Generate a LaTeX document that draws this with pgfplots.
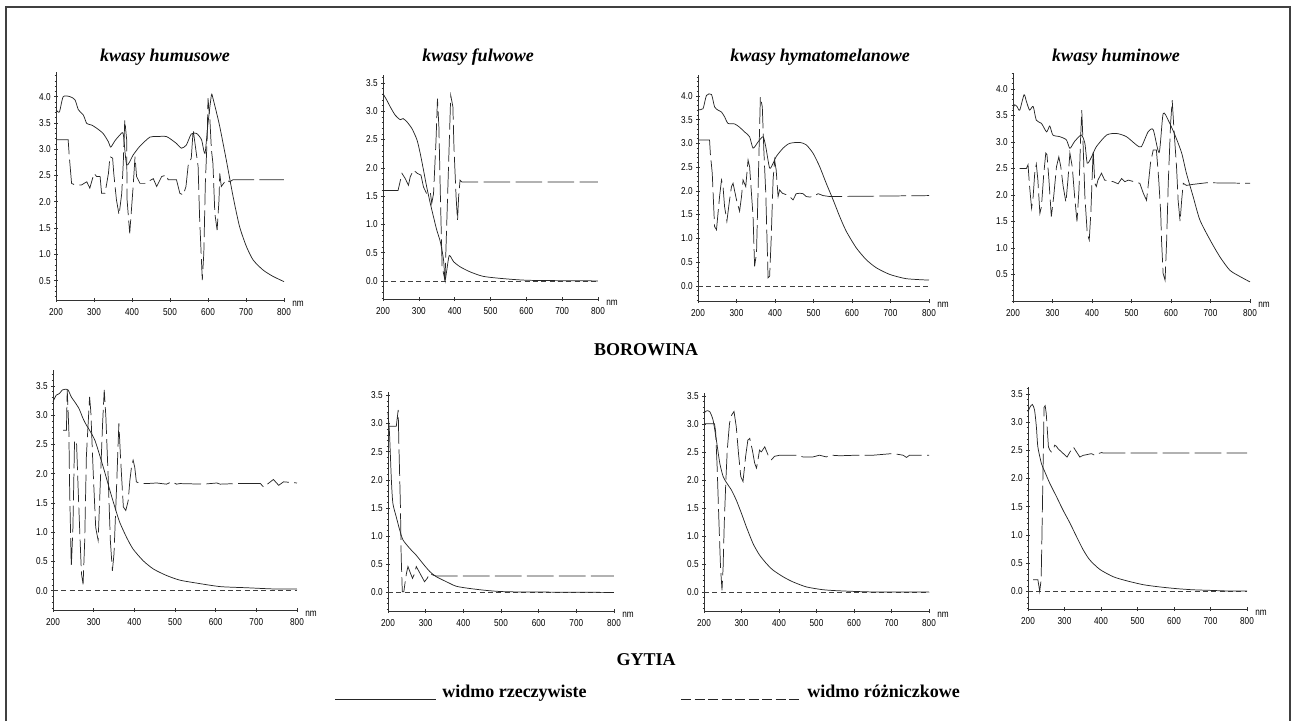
\documentclass[border=0pt]{standalone}
\usepackage{fontspec}
\setmainfont{Liberation Serif}
\newfontfamily\tickfont[FakeStretch=0.82]{Liberation Sans}
\usepackage{pgfplots}
\pgfplotsset{compat=1.18}

\pgfplotsset{
  pan/.style={
    scale only axis, anchor=south west, clip=false,
    axis x line=bottom, axis y line=left,
    axis line style={-, line width=0.5pt, black!80},
    xmin=200, xmax=800, xtick={200,300,...,800},
    minor ytick={-0.3,-0.2,...,4.45},
    tick align=center,
    major tick length=3pt, minor tick length=2pt,
    every tick/.style={black!80, line width=0.4pt},
    tick label style={font=\tickfont\fontsize{7.5}{8}\selectfont},
    /pgf/number format/assume math mode=true,
    /pgf/number format/1000 sep={},
    y tick label style={xshift=1pt, /pgf/number format/.cd, fixed, fixed zerofill, precision=1, /tikz/.cd},
    x tick label style={yshift=-1pt},
  },
  re/.style={black!85, line width=0.55pt, smooth, tension=0.4},
  de/.style={black!85, line width=0.55pt, dash pattern=on 20pt off 4pt},
  zl/.style={black!75, line width=0.45pt, dash pattern=on 3.75pt off 2.5pt},
}
\newcommand{\nm}{\node[font=\tickfont\fontsize{7.5}{8}\selectfont] at (rel axis cs:1,0) [xshift=10.5pt, yshift=-3pt] {nm};}

\begin{document}
\begin{tikzpicture}
\begin{scope}[x=0.75pt,y=-0.75pt]
\useasboundingbox (0,0) rectangle (1292,721);
\draw[line width=1.1pt, black!75] (6,721) -- (6,7) -- (1290,7) -- (1290,721);
\coordinate (c1) at (56,300);
\coordinate (c2) at (383,299);
\coordinate (c3) at (698,301);
\coordinate (c4) at (1013,301);
\coordinate (c5) at (53,610);
\coordinate (c6) at (388,611);
\coordinate (c7) at (704,611);
\coordinate (c8) at (1028,609);
\begin{scope}[font=\fontsize{13.5}{15}\selectfont\bfseries\itshape]
\node[anchor=base] at (165,61) {kwasy humusowe};
\node[anchor=base] at (478,61) {kwasy fulwowe};
\node[anchor=base] at (820,61) {kwasy hymatomelanowe};
\node[anchor=base] at (1116,61) {kwasy huminowe};
\end{scope}
\begin{scope}[font=\fontsize{13.5}{15}\selectfont\bfseries]
\node[anchor=base] at (646,355) {BOROWINA};
\node[anchor=base] at (646,665) {GYTIA};
\node[anchor=base west, inner sep=0pt] at (442,697) {widmo rzeczywiste};
\node[anchor=base west, inner sep=0pt] at (807,697) {widmo różniczkowe};
\end{scope}
\draw[line width=1.3pt, black!85] (335,699.5) -- (436,699.5);
\draw[line width=1.3pt, black!85, dash pattern=on 7.5pt off 2.625pt] (681,699.5) -- (800,699.5);
\end{scope}

% BOROWINA
\begin{axis}[pan, at={(c1)}, width=171pt, height=171pt,
  ymin=0.13, ymax=4.47, ytick={0.5,1,...,4}]
\addplot[re] coordinates {(200,3.75)(209,3.71)(219,4.00)(237,4.00)(250,3.94)(259,3.75)(272,3.65)(281,3.49)(294,3.46)(307,3.40)(324,3.30)(338,3.14)(344,3.04)(355,3.16)(368,3.27)(377,3.29)(386,2.70)(403,2.89)(421,3.06)(447,3.23)(465,3.24)(491,3.24)(517,3.11)(530,3.02)(543,3.08)(556,3.29)(570,3.30)(583,3.18)(592,2.92)(600,3.49)(609,4.03)(613,3.97)(622,3.71)(631,3.43)(648,2.80)(666,2.10)(683,1.53)(701,1.15)(719,0.89)(745,0.70)(771,0.58)(800,0.48)};
\addplot[de] coordinates {(200,3.18)(232,3.18)(235,2.86)(241,2.35)(250,2.32)(267,2.32)(281,2.38)(289,2.26)(300,2.54)(307,2.48)(316,2.48)(320,2.16)(329,2.16)(338,2.54)(342,2.86)(349,2.83)(352,2.54)(359,2.04)(366,1.75)(373,2.16)(377,2.73)(381,3.56)(386,3.18)(387,2.04)(394,1.40)(403,2.29)(408,2.86)(412,2.48)(421,2.35)(434,2.35)(456,2.44)(465,2.29)(478,2.48)(491,2.51)(495,2.42)(517,2.42)(526,2.16)(535,2.13)(542,2.29)(548,2.70)(556,2.83)(561,3.37)(568,2.99)(574,2.67)(578,1.68)(585,0.51)(589,1.02)(593,2.35)(598,3.24)(600,3.97)(605,3.56)(609,2.99)(613,2.73)(618,1.78)(624,1.46)(629,2.04)(631,2.54)(635,2.29)(641,2.35)(648,2.42)(657,2.38)(666,2.42)(800,2.42)};
\nm
\end{axis}

\begin{axis}[pan, at={(c2)}, width=161.25pt, height=168pt,
  ymin=-0.32, ymax=3.64, ytick={0,0.5,...,3.5}]
\addplot[zl] coordinates {(200,0)(800,0)};
\addplot[re] coordinates {(200,3.31)(211,3.19)(220,3.08)(234,2.93)(248,2.85)(256,2.87)(267,2.81)(281,2.69)(295,2.49)(304,2.25)(313,1.96)(322,1.66)(332,1.37)(341,1.13)(350,0.90)(360,0.69)(369,0.37)(373,0.01)(378,0.19)(385,0.45)(397,0.34)(415,0.25)(443,0.16)(480,0.08)(536,0.04)(610,0.01)(800,0.00)};
\addplot[de] coordinates {(200,1.60)(220,1.60)(242,1.60)(253,1.90)(262,1.81)(271,1.69)(276,1.84)(285,1.96)(296,1.90)(306,1.87)(313,1.66)(322,1.54)(332,1.57)(336,1.37)(341,1.54)(348,2.49)(352,3.22)(356,2.72)(360,1.54)(365,0.25)(373,0.01)(389,3.28)(395,3.08)(398,2.37)(404,1.48)(408,1.07)(411,1.48)(415,1.78)(420,1.75)(800,1.75)};
\nm
\end{axis}

\begin{axis}[pan, at={(c3)}, width=173.25pt, height=169.5pt,
  ymin=-0.32, ymax=4.44, ytick={0,0.5,...,4}]
\addplot[zl] coordinates {(200,0)(800,0)};
\addplot[re] coordinates {(200,3.71)(213,3.73)(222,4.01)(235,4.03)(243,3.77)(252,3.70)(261,3.66)(269,3.56)(278,3.42)(295,3.41)(308,3.34)(321,3.24)(334,3.14)(343,2.90)(356,3.03)(369,3.14)(376,2.93)(386,2.48)(395,2.58)(403,2.72)(421,2.90)(438,3.00)(464,3.02)(481,2.97)(499,2.79)(516,2.51)(533,2.16)(551,1.81)(568,1.46)(585,1.15)(611,0.80)(637,0.55)(663,0.38)(698,0.24)(741,0.15)(800,0.12)};
\addplot[de] coordinates {(200,3.07)(230,3.07)(232,2.79)(237,2.37)(243,1.25)(248,1.18)(252,1.53)(256,1.88)(261,2.23)(265,2.09)(269,1.67)(275,1.36)(282,1.81)(287,2.09)(291,2.16)(300,1.81)(308,1.57)(313,1.88)(317,2.23)(324,2.09)(330,2.65)(334,2.51)(343,1.46)(347,0.41)(352,0.69)(356,2.02)(362,3.98)(367,3.77)(371,2.86)(376,1.95)(382,0.17)(386,0.20)(390,0.97)(395,2.23)(399,2.65)(403,2.44)(408,1.88)(412,2.02)(419,1.95)(429,1.92)(438,1.88)(447,1.81)(455,1.94)(464,1.95)(473,1.94)(481,1.88)(490,1.87)(499,1.88)(512,1.94)(525,1.90)(542,1.88)(800,1.90)};
\nm
\end{axis}

\begin{axis}[pan, at={(c4)}, width=177.75pt, height=171pt,
  ymin=0, ymax=4.3, ytick={0.5,1,...,4}]
\addplot[re] coordinates {(200,3.63)(204,3.70)(210,3.67)(217,3.60)(228,3.89)(234,3.76)(242,3.60)(251,3.67)(259,3.41)(272,3.35)(285,3.19)(293,3.30)(301,3.13)(318,3.10)(335,3.04)(344,2.88)(356,3.01)(373,3.13)(382,2.97)(388,2.60)(399,2.72)(411,2.91)(437,3.13)(462,3.16)(487,3.10)(513,2.94)(525,2.91)(542,3.19)(555,3.23)(570,2.80)(580,3.53)(593,3.41)(610,3.13)(627,2.79)(639,2.41)(656,1.97)(673,1.53)(699,1.15)(724,0.83)(749,0.58)(775,0.46)(800,0.36)};
\addplot[de] coordinates {(217,2.50)(234,2.50)(238,2.57)(242,2.16)(247,1.75)(251,1.97)(255,2.41)(259,2.58)(263,2.28)(268,1.65)(272,1.78)(278,2.41)(283,2.79)(286,2.76)(291,2.28)(297,1.59)(303,1.97)(310,2.53)(316,2.72)(321,2.53)(327,2.16)(334,1.86)(339,2.28)(344,2.79)(350,2.53)(356,1.97)(362,1.50)(367,2.10)(371,3.04)(374,3.60)(377,3.04)(382,1.97)(388,1.27)(393,1.15)(397,1.65)(403,2.85)(407,2.22)(411,2.16)(415,2.28)(424,2.41)(432,2.28)(454,2.25)(466,2.21)(475,2.31)(483,2.25)(492,2.28)(521,2.22)(530,2.03)(538,1.90)(542,2.16)(548,2.60)(555,2.85)(563,2.85)(569,2.28)(574,1.65)(576,1.15)(580,0.52)(585,0.39)(589,1.15)(593,2.22)(599,3.35)(603,3.79)(607,3.29)(614,2.53)(618,1.90)(623,1.50)(627,1.90)(631,2.22)(639,2.18)(656,2.20)(690,2.23)(800,2.22)};
\nm
\end{axis}

% GYTIA
\begin{axis}[pan, at={(c5)}, width=183pt, height=180pt,
  ymin=-0.33, ymax=3.77, ytick={0,0.5,...,3.5}]
\addplot[zl] coordinates {(200,0)(800,0)};
\addplot[re] coordinates {(200,3.23)(208,3.34)(216,3.37)(223,3.43)(229,3.44)(237,3.43)(245,3.31)(253,3.23)(264,3.11)(274,2.94)(282,2.83)(290,2.74)(303,2.57)(315,2.31)(327,2.03)(340,1.71)(352,1.43)(364,1.17)(381,0.91)(397,0.71)(422,0.51)(447,0.37)(479,0.26)(512,0.18)(553,0.13)(611,0.07)(677,0.05)(742,0.03)(800,0.03)};
\addplot[de] coordinates {(225,2.74)(233,2.74)(235,3.43)(239,2.74)(241,1.71)(245,0.40)(249,1.08)(253,2.57)(258,2.51)(262,1.71)(266,0.97)(270,0.29)(274,0.11)(278,0.86)(282,2.28)(286,2.80)(290,3.31)(293,3.06)(299,2.00)(305,1.08)(311,0.86)(315,1.60)(322,2.86)(326,3.43)(330,2.97)(336,1.88)(341,0.86)(346,0.34)(350,0.63)(356,1.71)(362,2.86)(366,2.28)(373,1.43)(379,1.37)(385,1.54)(389,1.88)(393,2.11)(397,2.23)(401,2.11)(405,1.86)(414,1.83)(430,1.83)(455,1.84)(479,1.82)(492,1.86)(504,1.82)(512,1.83)(570,1.82)(603,1.84)(611,1.82)(652,1.83)(710,1.83)(718,1.77)(742,1.90)(755,1.80)(767,1.86)(800,1.84)};
\nm
\end{axis}

\begin{axis}[pan, at={(c6)}, width=169.5pt, height=164.25pt,
  ymin=-0.33, ymax=3.56, ytick={0,0.5,...,3.5}]
\addplot[zl] coordinates {(200,0)(800,0)};
\addplot[re] coordinates {(200,3.18)(204,2.82)(209,1.99)(213,1.58)(222,1.34)(231,1.11)(240,0.93)(258,0.78)(275,0.66)(293,0.51)(311,0.37)(328,0.28)(355,0.19)(381,0.11)(417,0.07)(470,0.03)(532,0.01)(800,0.00)};
\addplot[de] coordinates {(200,2.95)(222,2.95)(227,3.24)(229,2.60)(233,1.52)(235,0.63)(238,0.01)(242,0.01)(245,0.16)(249,0.34)(253,0.46)(258,0.37)(265,0.25)(271,0.34)(275,0.46)(280,0.40)(297,0.19)(304,0.25)(311,0.34)(319,0.31)(328,0.29)(800,0.29)};
\nm
\end{axis}

\begin{axis}[pan, at={(c7)}, width=168.75pt, height=163.5pt,
  ymin=-0.34, ymax=3.55, ytick={0,0.5,...,3.5}]
\addplot[zl] coordinates {(200,0)(800,0)};
\addplot[re] coordinates {(200,3.19)(206,3.23)(215,3.22)(224,3.07)(233,2.71)(242,2.30)(251,2.06)(261,1.94)(273,1.82)(286,1.64)(300,1.40)(313,1.16)(331,0.86)(348,0.66)(366,0.51)(384,0.39)(411,0.27)(437,0.18)(473,0.09)(517,0.04)(562,0.02)(651,0.00)(800,0.00)};
\addplot[de] coordinates {(200,3.00)(228,3.00)(231,2.86)(235,2.24)(240,1.22)(244,0.45)(248,0.03)(251,0.45)(254,1.22)(258,1.94)(262,2.53)(268,3.01)(274,3.16)(280,3.22)(286,2.95)(292,2.47)(298,2.06)(304,1.97)(311,2.42)(317,2.71)(322,2.74)(329,2.53)(335,2.30)(340,2.21)(344,2.36)(348,2.53)(353,2.50)(362,2.59)(371,2.44)(380,2.36)(388,2.42)(402,2.44)(420,2.44)(446,2.44)(464,2.41)(491,2.41)(508,2.44)(526,2.41)(540,2.44)(562,2.43)(606,2.44)(651,2.44)(704,2.47)(731,2.44)(740,2.40)(748,2.44)(800,2.44)};
\nm
\end{axis}

\begin{axis}[pan, at={(c8)}, width=164.25pt, height=166.5pt,
  ymin=-0.31, ymax=3.62, ytick={0,0.5,...,3.5}]
\addplot[zl] coordinates {(200,0)(800,0)};
\addplot[re] coordinates {(200,3.18)(205,3.26)(212,3.31)(218,3.21)(223,2.91)(227,2.56)(237,2.26)(246,2.12)(260,1.91)(278,1.68)(296,1.44)(315,1.21)(333,0.97)(351,0.74)(369,0.56)(397,0.39)(434,0.26)(470,0.19)(516,0.12)(562,0.08)(608,0.05)(653,0.03)(699,0.02)(745,0.01)(800,0.01)};
\addplot[de] coordinates {(214,0.21)(227,0.21)(230,0.09)(232,0.00)(236,0.21)(238,0.91)(241,2.09)(244,3.26)(247,3.29)(250,3.15)(253,2.85)(256,2.56)(260,2.50)(264,2.47)(269,2.50)(273,2.59)(278,2.57)(282,2.53)(287,2.50)(307,2.38)(315,2.47)(324,2.56)(333,2.47)(342,2.38)(351,2.41)(374,2.44)(383,2.41)(392,2.44)(402,2.46)(406,2.45)(800,2.45)};
\nm
\end{axis}
\end{tikzpicture}
\end{document}
